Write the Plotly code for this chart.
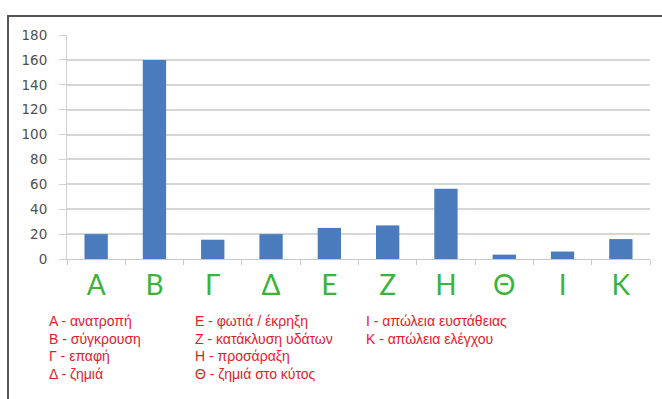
import plotly.graph_objects as go

categories = ["Α", "Β", "Γ", "Δ", "Ε", "Ζ", "Η", "Θ", "Ι", "Κ"]
values = [20, 160, 15.5, 20, 25, 27, 56.5, 3.5, 6, 16]
y_ticks = [0, 20, 40, 60, 80, 100, 120, 140, 160, 180]

legend_col1 = ["Α - ανατροπή", "Β - σύγκρουση", "Γ - επαφή", "Δ - ζημιά"]
legend_col2 = ["Ε - φωτιά / έκρηξη", "Ζ - κατάκλυση υδάτων", "Η - προσάραξη", "Θ - ζημιά στο κύτος"]
legend_col3 = ["Ι - απώλεια ευστάθειας", "Κ - απώλεια ελέγχου"]

W, H = 662, 399
L, R, T, B = 67, 12, 35, 140
pw, ph = W - L - R, H - T - B

def px_x(p):
    return (p - L) / pw

def px_y(p):
    return (H - B - p) / ph

fig = go.Figure()
fig.add_trace(go.Bar(
    x=categories, y=values,
    marker=dict(color="#4a7cbd", line=dict(width=0)),
    width=0.4,
))

annotations = []
cols = [(legend_col1, 47), (legend_col2, 193), (legend_col3, 364)]
for col, xp in cols:
    for i, txt in enumerate(col):
        annotations.append(dict(
            text=txt, xref="paper", yref="paper",
            x=px_x(xp), y=px_y(321 + i * 17.6),
            xanchor="left", yanchor="middle", showarrow=False,
            font=dict(family="Liberation Sans, Arial", size=14, color="#e2202a"),
        ))

shapes = [
    dict(type="line", xref="paper", yref="paper",
         x0=px_x(8), x1=px_x(8), y0=px_y(16), y1=px_y(420),
         line=dict(color="#555555", width=2)),
    dict(type="line", xref="paper", yref="paper",
         x0=px_x(7), x1=px_x(680), y0=px_y(16), y1=px_y(16),
         line=dict(color="#555555", width=2)),
]

fig.update_layout(
    width=W, height=H,
    margin=dict(l=L, r=R, t=T, b=B),
    paper_bgcolor="white", plot_bgcolor="white",
    showlegend=False,
    annotations=annotations,
    shapes=shapes,
    xaxis=dict(
        type="category",
        showgrid=False,
        showline=True, linecolor="#c8c8c8", linewidth=1,
        ticks="outside", tickson="boundaries", ticklen=5, tickcolor="#c8c8c8",
        tickfont=dict(family="Lato, Noto Sans", size=28, color="#3bb33b"),
        ticklabelstandoff=1,
        range=[-0.5, 9.5],
    ),
    yaxis=dict(
        range=[0, 180],
        tickvals=y_ticks,
        showgrid=True, gridcolor="#d6d6d6", gridwidth=1.5,
        showline=True, linecolor="#d0d0d0", linewidth=1,
        ticks="outside", ticklen=7, tickcolor="#d0d0d0",
        tickfont=dict(family="DejaVu Sans", size=13.5, color="#505050"),
        ticklabelstandoff=9,
        zeroline=False,
    ),
    bargap=0.6,
)

fig.write_html("out.html")
